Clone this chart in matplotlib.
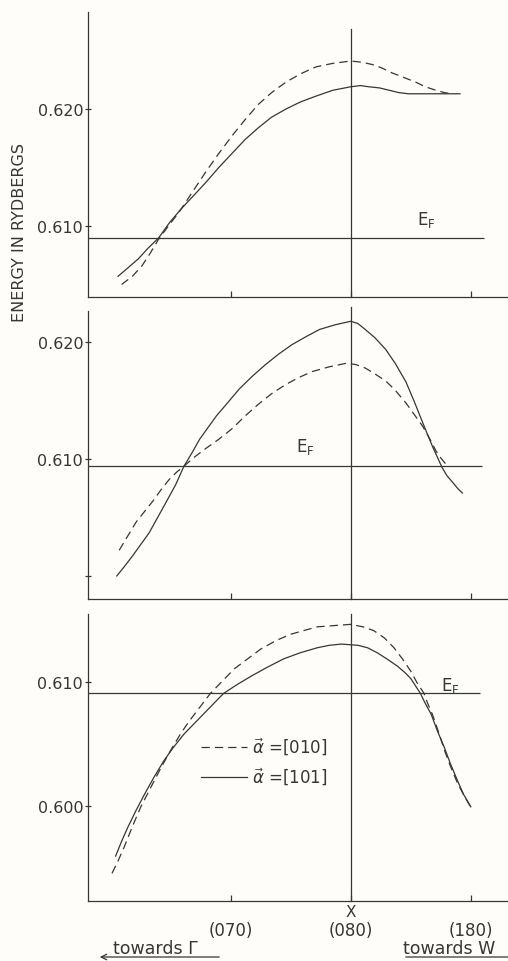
import numpy as np
import matplotlib
matplotlib.use("Agg")
import matplotlib.pyplot as plt

# k position along the line, in units of the (070)-(080) step; 0 = X (080)
# panel 1 (top)
p1_x_101 = [-1.94, -1.86, -1.77, -1.69, -1.60, -1.51, -1.41, -1.31, -1.21, -1.10, -0.99, -0.88, -0.77, -0.66, -0.54,
            -0.42, -0.29, -0.15, 0.0, 0.08, 0.15, 0.24, 0.32, 0.40, 0.48, 0.58, 0.68, 0.80, 0.91]
p1_e_101 = [0.6057, 0.6064, 0.6072, 0.6081, 0.6090, 0.6103, 0.6115, 0.6126, 0.6137, 0.6150, 0.6162, 0.6174, 0.6184, 0.6193, 0.6200,
            0.6206, 0.6211, 0.6216, 0.6219, 0.6220, 0.6219, 0.6218, 0.6216, 0.6214, 0.6213, 0.6213, 0.6213, 0.6213, 0.6213]
p1_x_010 = [-1.91, -1.82, -1.74, -1.67, -1.60, -1.52, -1.43, -1.32, -1.21, -1.10, -0.99, -0.88, -0.77, -0.66, -0.54,
            -0.42, -0.29, -0.15, 0.0, 0.09, 0.18, 0.26, 0.34, 0.44, 0.54, 0.62, 0.71, 0.78, 0.84]
p1_e_010 = [0.6050, 0.6057, 0.6066, 0.6077, 0.6089, 0.6100, 0.6112, 0.6129, 0.6146, 0.6162, 0.6177, 0.6191, 0.6204, 0.6214, 0.6223,
            0.6230, 0.6236, 0.6239, 0.6241, 0.6240, 0.6238, 0.6235, 0.6231, 0.6227, 0.6223, 0.6219, 0.6216, 0.6214, 0.6213]

# panel 2 (middle)
p2_x_101 = [-1.95, -1.88, -1.82, -1.75, -1.68, -1.61, -1.54, -1.46, -1.39, -1.32, -1.26, -1.19, -1.12, -1.02, -0.93,
            -0.82, -0.71, -0.60, -0.49, -0.37, -0.26, -0.13, 0.0, 0.06, 0.12, 0.20, 0.29, 0.37, 0.46, 0.53,
            0.60, 0.64, 0.68, 0.72, 0.76, 0.80, 0.85, 0.89, 0.93]
p2_e_101 = [0.6000, 0.6009, 0.6017, 0.6027, 0.6037, 0.6050, 0.6063, 0.6078, 0.6094, 0.6106, 0.6117, 0.6127, 0.6137, 0.6149, 0.6160,
            0.6171, 0.6181, 0.6190, 0.6198, 0.6205, 0.6211, 0.6215, 0.6218, 0.6216, 0.6211, 0.6204, 0.6194, 0.6182, 0.6166, 0.6149,
            0.6131, 0.6121, 0.6111, 0.6102, 0.6093, 0.6086, 0.6080, 0.6075, 0.6071]
p2_x_010 = [-1.93, -1.86, -1.79, -1.72, -1.65, -1.58, -1.51, -1.45, -1.39, -1.30, -1.21, -1.10, -0.99, -0.88, -0.77,
            -0.66, -0.54, -0.43, -0.32, -0.18, -0.04, 0.04, 0.12, 0.20, 0.29, 0.37, 0.46, 0.53, 0.60, 0.66,
            0.71, 0.75, 0.79]
p2_e_010 = [0.6022, 0.6034, 0.6046, 0.6055, 0.6064, 0.6074, 0.6083, 0.6089, 0.6094, 0.6102, 0.6109, 0.6117, 0.6126, 0.6137, 0.6147,
            0.6156, 0.6164, 0.6170, 0.6175, 0.6179, 0.6182, 0.6181, 0.6178, 0.6173, 0.6167, 0.6159, 0.6148, 0.6138, 0.6128, 0.6117,
            0.6107, 0.6101, 0.6096]

# panel 3 (bottom)
p3_x_101 = [-1.96, -1.91, -1.86, -1.79, -1.72, -1.64, -1.56, -1.48, -1.39, -1.32, -1.25, -1.15, -1.06, -0.95, -0.83,
            -0.70, -0.56, -0.42, -0.28, -0.18, -0.08, 0.06, 0.14, 0.22, 0.30, 0.39, 0.45, 0.50, 0.54, 0.58,
            0.62, 0.67, 0.72, 0.78, 0.83, 0.89, 0.94, 1.00]
p3_e_101 = [0.5959, 0.5971, 0.5982, 0.5996, 0.6009, 0.6023, 0.6036, 0.6047, 0.6058, 0.6065, 0.6072, 0.6082, 0.6091, 0.6098, 0.6105,
            0.6112, 0.6119, 0.6124, 0.6128, 0.6130, 0.6131, 0.6130, 0.6128, 0.6124, 0.6119, 0.6113, 0.6108, 0.6103, 0.6097, 0.6091,
            0.6083, 0.6074, 0.6061, 0.6047, 0.6034, 0.6020, 0.6009, 0.5999]
p3_x_010 = [-1.99, -1.94, -1.89, -1.82, -1.75, -1.66, -1.58, -1.50, -1.42, -1.35, -1.28, -1.17, -1.07, -0.97, -0.86,
            -0.75, -0.62, -0.50, -0.39, -0.28, -0.14, 0.0, 0.10, 0.19, 0.28, 0.36, 0.43, 0.50, 0.55, 0.61,
            0.64, 0.68, 0.73, 0.78, 0.83, 0.89, 0.95, 1.01]
p3_e_010 = [0.5945, 0.5955, 0.5966, 0.5983, 0.5999, 0.6016, 0.6031, 0.6045, 0.6058, 0.6068, 0.6077, 0.6091, 0.6101, 0.6111, 0.6119,
            0.6127, 0.6134, 0.6139, 0.6142, 0.6145, 0.6146, 0.6147, 0.6145, 0.6142, 0.6136, 0.6128, 0.6119, 0.6109, 0.6100, 0.6091,
            0.6083, 0.6074, 0.6060, 0.6045, 0.6032, 0.6018, 0.6007, 0.5997]

# Fermi levels
e_fermi = [0.6090, 0.6094, 0.6091]

x_ticks = [-1, 0, 1]
x_ticklabels = ["(070)", "(080)", "(180)"]

ink = "#363636"
plt.rcParams['lines.scale_dashes'] = False
plt.rcParams['font.family'] = ['DejaVu Sans']

fig = plt.figure(figsize=(5.08, 9.62), dpi=100, facecolor="#fefdf9")

left = 88 / 508
width = 1 - left
# (bottom, height, ylim, yticks, ytick labels)
panels = [
    (0.6902, 0.2963, (0.60393, 0.62829), [0.610, 0.620], ["0.610", "0.620"]),
    (0.3763, 0.2994, (0.59803, 0.62268), [0.600, 0.610, 0.620], ["", "0.610", "0.620"]),
    (0.0624, 0.2983, (0.59226, 0.61554), [0.600, 0.610], ["0.600", "0.610"]),
]
curves = [
    (p1_x_010, p1_e_010, p1_x_101, p1_e_101),
    (p2_x_010, p2_e_010, p2_x_101, p2_e_101),
    (p3_x_010, p3_e_010, p3_x_101, p3_e_101),
]
ef_end = [1.11, 1.09, 1.08]
ef_label = [(0.55, 0.6102), (-0.46, 0.6107), (0.75, 0.6094)]
vline_top = [0.94, 1.014, 1.0]

axes = []
for i, (bot, h, ylim, yt, ytl) in enumerate(panels):
    ax = fig.add_axes([left, bot, width, h])
    ax.set_facecolor("none")
    ax.set_xlim(-2.19, 1.31)
    ax.set_ylim(*ylim)
    for s in ["top", "right"]:
        ax.spines[s].set_visible(False)
    for s in ["left", "bottom"]:
        ax.spines[s].set_color(ink)
        ax.spines[s].set_linewidth(0.9)

    xd, ed, xs, es = curves[i]
    ax.plot(xd, ed, color=ink, lw=0.9, linestyle=(0, (6, 3.6)), label=r"$\vec{\alpha}$ =[010]")
    ax.plot(xs, es, color=ink, lw=0.9, label=r"$\vec{\alpha}$ =[101]")

    # Fermi level and X line
    ax.hlines(e_fermi[i], -2.19, ef_end[i], color=ink, lw=0.9)
    ax.axvline(0, ymin=0, ymax=vline_top[i], color=ink, lw=0.9, clip_on=False)
    ax.text(ef_label[i][0], ef_label[i][1], r"E$_{\mathregular{F}}$", fontsize=12,
            color=ink, va="baseline", ha="left")

    ax.set_yticks(yt)
    ax.set_yticklabels(ytl, fontsize=11.5, color=ink)
    ax.tick_params(axis="y", direction="inout", length=5, width=0.9, pad=1, colors=ink)
    ax.set_xticks(x_ticks)
    ax.tick_params(axis="x", direction="in", length=4, width=0.9, colors=ink)
    if i < 2:
        ax.set_xticklabels([])
    else:
        ax.set_xticklabels(x_ticklabels, fontsize=12, color=ink)
        ax.tick_params(axis="x", pad=14.5)
        ax.annotate("X", xy=(0, 0), xycoords=("data", "axes fraction"),
                    xytext=(0, -7.5), textcoords="offset points",
                    ha="center", va="center", fontsize=11, color=ink)
        leg = ax.legend(loc="center left", bbox_to_anchor=(0.268, 0.486),
                        frameon=False, fontsize=12, handlelength=2.8,
                        handletextpad=0.3, labelspacing=0.55,
                        borderpad=0, borderaxespad=0)
        for t in leg.get_texts():
            t.set_color(ink)
    axes.append(ax)

fig.text(20 / 508, 1 - 232 / 962, "ENERGY IN RYDBERGS", rotation=90,
         ha="center", va="center", fontsize=11.5, color=ink)

# direction labels under the bottom panel
fig.text(113 / 508, 1 - 949 / 962, "towards \u0393", ha="left", va="center",
         fontsize=12.5, color=ink)
fig.add_artist(matplotlib.patches.FancyArrowPatch(
    (222 / 508, 1 - 958 / 962), (97 / 508, 1 - 958 / 962),
    transform=fig.transFigure, arrowstyle="->", mutation_scale=10,
    color=ink, lw=0.9))
fig.text(403 / 508, 1 - 949 / 962, "towards W", ha="left", va="center",
         fontsize=12.5, color=ink)
fig.add_artist(matplotlib.patches.FancyArrowPatch(
    (403 / 508, 1 - 958 / 962), (530 / 508, 1 - 958 / 962),
    transform=fig.transFigure, arrowstyle="->", mutation_scale=10,
    color=ink, lw=0.9))

fig.savefig("out.png", dpi=100, facecolor=fig.get_facecolor())
